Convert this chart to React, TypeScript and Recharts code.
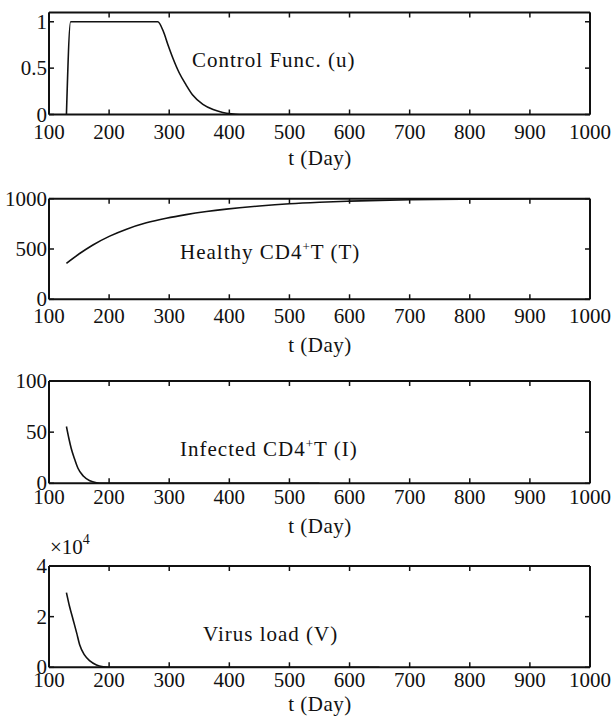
import React from "react";
import { LineChart, Line, XAxis, YAxis } from "recharts";

const dayTicks = [100, 200, 300, 400, 500, 600, 700, 800, 900, 1000];

// control function u
const uDays = [129, 136, 281, 290, 298, 306, 317, 328, 339, 356, 373, 389, 403, 417, 600];
const uValues = [0, 1, 1, 0.9, 0.75, 0.61, 0.445, 0.32, 0.21, 0.11, 0.054, 0.022, 0.007, 0, 0];

// healthy CD4+ T cells
const tDays = [129, 151, 173, 201, 229, 262, 295, 328, 362, 395, 417, 450, 500, 550, 600, 700, 800, 900, 1000];
const tValues = [358, 455, 540, 628, 697, 760, 806, 842, 872, 896, 910, 928, 950, 965, 976, 990, 996, 999, 1000];

// infected CD4+ T cells
const iDays = [129, 133, 137, 143, 148, 157, 168, 179, 190, 550];
const iValues = [55.5, 44, 34, 23, 15, 7.1, 2.5, 0.6, 0, 0];

// virus load
const vDays = [129, 134, 140, 146, 151, 159, 168, 179, 190, 200, 650];
const vValues = [29500, 24200, 18900, 13600, 8900, 4900, 2500, 900, 200, 0, 0];

const FONT = "'Liberation Serif', 'Times New Roman', serif";
const INK = "#111";

const zip = (days: number[], values: number[]) => days.map((t, i) => ({ t, v: values[i] }));

function BottomTick(props: any) {
  const { x, y, payload, off } = props;
  return (
    <g>
      <line x1={x} y1={y} x2={x} y2={y - 5} stroke={INK} strokeWidth={1.5} />
      <text x={x} y={y + off} textAnchor="middle" fontFamily={FONT} fontSize={21} fill={INK}>
        {payload.value}
      </text>
    </g>
  );
}

function TopTick(props: any) {
  const { x, y } = props;
  return <line x1={x} y1={y} x2={x} y2={y + 5} stroke={INK} strokeWidth={1.5} />;
}

function LeftTick(props: any) {
  const { x, y, payload, fmt } = props;
  return (
    <g>
      <line x1={x} y1={y} x2={x + 5} y2={y} stroke={INK} strokeWidth={1.5} />
      <text x={x - 2} y={y + 7} textAnchor="end" fontFamily={FONT} fontSize={21} fill={INK}>
        {fmt(payload.value)}
      </text>
    </g>
  );
}

function RightTick(props: any) {
  const { x, y } = props;
  return <line x1={x} y1={y} x2={x - 5} y2={y} stroke={INK} strokeWidth={1.5} />;
}

type PanelProps = {
  top: number;
  height: number;
  margTop: number;
  plotH: number;
  xOff: number;
  data: { t: number; v: number }[];
  yMax: number;
  yTicks: number[];
  yFmt: (v: number) => string;
};

function Panel({ top, height, margTop, plotH, xOff, data, yMax, yTicks, yFmt }: PanelProps) {
  const axisLine = { stroke: INK, strokeWidth: 2 };
  // top axis takes 1px and right axis 1px, so margins are reduced to keep the box in place
  return (
    <div style={{ position: "absolute", left: 0, top, width: 612, height }}>
      <LineChart width={612} height={height} data={data} margin={{ top: margTop - 1, right: 21, bottom: 0, left: 0 }}>
        <XAxis
          xAxisId="b"
          dataKey="t"
          type="number"
          domain={[100, 1000]}
          ticks={dayTicks}
          interval={0}
          allowDataOverflow
          height={height - margTop - plotH}
          tickSize={0}
          tickMargin={0}
          tickLine={false}
          axisLine={axisLine}
          tick={(p: any) => <BottomTick {...p} off={xOff} />}
        />
        <XAxis
          xAxisId="tp"
          dataKey="t"
          orientation="top"
          type="number"
          domain={[100, 1000]}
          ticks={dayTicks}
          interval={0}
          allowDataOverflow
          height={1}
          tickSize={0}
          tickMargin={0}
          tickLine={false}
          axisLine={axisLine}
          tick={(p: any) => <TopTick {...p} />}
        />
        <YAxis
          yAxisId="l"
          type="number"
          domain={[0, yMax]}
          ticks={yTicks}
          interval={0}
          allowDataOverflow
          width={49}
          tickSize={0}
          tickMargin={0}
          tickLine={false}
          axisLine={axisLine}
          tick={(p: any) => <LeftTick {...p} fmt={yFmt} />}
        />
        <YAxis
          yAxisId="r"
          orientation="right"
          type="number"
          domain={[0, yMax]}
          ticks={yTicks}
          interval={0}
          allowDataOverflow
          width={1}
          tickSize={0}
          tickMargin={0}
          tickLine={false}
          axisLine={axisLine}
          tick={(p: any) => <RightTick {...p} />}
        />
        <Line
          xAxisId="b"
          yAxisId="l"
          dataKey="v"
          type="monotone"
          stroke={INK}
          strokeWidth={1.6}
          dot={false}
          isAnimationActive={false}
        />
      </LineChart>
    </div>
  );
}

const txt = { fontFamily: FONT, fontSize: 21, fill: INK };

export default function App() {
  return (
    <div style={{ position: "absolute", left: 0, top: 0, width: 612, height: 724, background: "#fff" }}>
      <Panel top={0} height={184} margTop={12.5} plotH={102} xOff={24} data={zip(uDays, uValues)} yMax={1.1} yTicks={[0, 0.5, 1]} yFmt={(v) => String(v)} />
      <Panel top={184} height={184} margTop={14.7} plotH={100.6} xOff={24} data={zip(tDays, tValues)} yMax={1000} yTicks={[0, 500, 1000]} yFmt={(v) => String(v)} />
      <Panel top={368} height={184} margTop={13} plotH={102.3} xOff={21} data={zip(iDays, iValues)} yMax={100} yTicks={[0, 50, 100]} yFmt={(v) => String(v)} />
      <Panel top={552} height={172} margTop={14} plotH={101.3} xOff={20} data={zip(vDays, vValues)} yMax={40000} yTicks={[0, 20000, 40000]} yFmt={(v) => String(v / 10000)} />

      <svg width={612} height={724} style={{ position: "absolute", left: 0, top: 0, pointerEvents: "none" }}>
        <text x={192} y={67} {...txt} letterSpacing={1}>Control Func. (u)</text>
        <text x={180} y={259} {...txt} letterSpacing={1}>
          Healthy CD4<tspan dy={-8} fontSize={13}>+</tspan>
          <tspan dy={8}>T (T)</tspan>
        </text>
        <text x={180} y={456} {...txt} letterSpacing={1}>
          Infected CD4<tspan dy={-8} fontSize={13}>+</tspan>
          <tspan dy={8}>T (I)</tspan>
        </text>
        <text x={203} y={641} {...txt} letterSpacing={1}>Virus load (V)</text>

        <text x={320} y={165} {...txt} textAnchor="middle" letterSpacing={0.5}>t (Day)</text>
        <text x={320} y={352} {...txt} textAnchor="middle" letterSpacing={0.5}>t (Day)</text>
        <text x={320} y={533} {...txt} textAnchor="middle" letterSpacing={0.5}>t (Day)</text>
        <text x={320} y={711} {...txt} textAnchor="middle" letterSpacing={0.5}>t (Day)</text>

        <text x={50} y={554} {...txt}>
          ×10<tspan dy={-10} fontSize={14}>4</tspan>
        </text>
      </svg>
    </div>
  );
}
